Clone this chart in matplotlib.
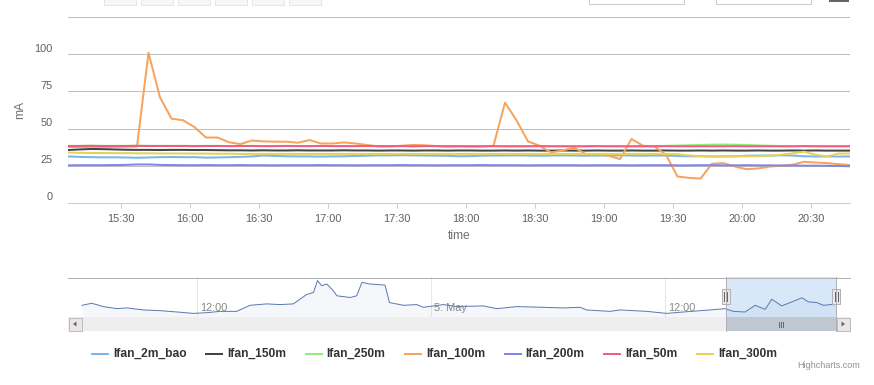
import numpy as np
import pandas as pd
import matplotlib
matplotlib.use("Agg")
import matplotlib.pyplot as plt
import matplotlib.dates as mdates
from matplotlib.patches import Rectangle, Polygon
from matplotlib.lines import Line2D
from matplotlib.transforms import ScaledTranslation

plt.rcParams['font.family'] = ['Liberation Sans', 'DejaVu Sans']

W, H = 874, 385
PT = 72.0 / 100  # one pixel in points at dpi 100

# ---- data (5 minute samples) ----
times = pd.date_range("2016-05-05 15:07", periods=69, freq="5min")

series_names = ["Ifan_2m_bao", "Ifan_150m", "Ifan_250m", "Ifan_100m",
                "Ifan_200m", "Ifan_50m", "Ifan_300m"]
series_colors = ["#7cb5ec", "#434348", "#90ed7d", "#f7a35c",
                 "#8085e9", "#f15c80", "#e4d354"]

ifan_2m_bao = [31.3, 31.0, 30.8, 30.7, 30.7, 30.6, 30.4, 30.6, 30.8, 30.9,
               30.8, 30.8, 30.5, 30.6, 30.8, 31.0, 31.3, 31.9, 31.6, 31.4,
               31.3, 31.3, 31.2, 31.3, 31.4, 31.6, 31.8, 32.0, 32.0, 32.1,
               32.0, 31.9, 31.8, 31.7, 31.4, 31.5, 31.8, 31.9, 31.9, 32.0,
               31.9, 31.8, 31.9, 32.0, 31.9, 31.8, 31.9, 31.9, 32.0, 31.9,
               31.8, 31.9, 31.9, 31.6, 31.4, 31.4, 31.3, 31.4, 31.4, 31.8,
               31.9, 31.9, 32.0, 31.9, 31.4, 31.3, 31.3, 31.2, 31.3]
ifan_150m = [35.6, 36.0, 36.3, 36.2, 36.0, 35.8, 35.7, 35.7, 35.6, 35.7,
             35.7, 35.6, 35.6, 35.5, 35.4, 35.4, 35.3, 35.4, 35.3, 35.3,
             35.4, 35.3, 35.3, 35.3, 35.4, 35.3, 35.3, 35.2, 35.3, 35.3,
             35.2, 35.3, 35.3, 35.2, 35.3, 35.3, 35.2, 35.2, 35.3, 35.2,
             35.3, 35.2, 35.2, 35.3, 35.2, 35.2, 35.3, 35.2, 35.2, 35.3,
             35.2, 35.2, 35.3, 35.2, 35.2, 35.3, 35.2, 35.3, 35.2, 35.2,
             35.3, 35.2, 35.2, 35.3, 35.2, 35.3, 35.2, 35.2, 35.2]
ifan_250m = [38.4, 38.4, 38.5, 38.4, 38.4, 38.4, 38.5, 38.4, 38.4, 38.4,
             38.4, 38.3, 38.4, 38.4, 38.3, 38.4, 38.4, 38.3, 38.3, 38.4,
             38.3, 38.3, 38.4, 38.3, 38.3, 38.3, 38.4, 38.3, 38.3, 38.3,
             38.2, 38.3, 38.3, 38.2, 38.3, 38.2, 38.2, 38.3, 38.2, 38.2,
             38.2, 38.3, 38.2, 38.2, 38.2, 38.2, 38.3, 38.2, 38.2, 38.2,
             38.2, 38.3, 38.4, 38.6, 38.8, 39.0, 39.2, 39.3, 39.2, 39.0,
             38.7, 38.5, 38.3, 38.2, 38.3, 38.2, 38.2, 38.2, 38.2]
ifan_100m = [37.6, 37.6, 37.7, 37.6, 37.7, 37.8, 37.9, 101.0, 71.0, 56.7,
             55.6, 51.0, 44.0, 44.0, 40.8, 39.6, 42.0, 41.4, 41.2, 41.2,
             40.5, 42.3, 40.0, 40.0, 40.7, 40.0, 39.0, 38.0, 38.0, 38.5,
             39.0, 38.8, 38.3, 38.0, 38.0, 38.0, 38.0, 38.5, 67.4, 55.6,
             41.4, 38.5, 34.0, 35.3, 37.2, 33.0, 32.7, 31.8, 29.5, 43.0,
             38.5, 38.0, 32.4, 17.8, 16.9, 16.4, 26.4, 26.8, 24.5, 22.7,
             23.2, 24.5, 25.0, 25.7, 27.7, 27.2, 26.8, 26.1, 25.5]
ifan_200m = [25.3, 25.4, 25.4, 25.4, 25.5, 25.6, 25.9, 25.9, 25.6, 25.5,
             25.4, 25.4, 25.5, 25.4, 25.4, 25.5, 25.4, 25.4, 25.3, 25.4,
             25.4, 25.4, 25.5, 25.4, 25.4, 25.3, 25.4, 25.4, 25.4, 25.5,
             25.4, 25.4, 25.3, 25.4, 25.4, 25.4, 25.5, 25.4, 25.4, 25.4,
             25.3, 25.4, 25.4, 25.4, 25.4, 25.3, 25.4, 25.4, 25.4, 25.3,
             25.4, 25.4, 25.4, 25.3, 25.3, 25.4, 25.4, 25.3, 25.3, 25.4,
             25.3, 25.3, 25.2, 25.2, 25.1, 25.1, 25.0, 24.9, 24.7]
ifan_50m = [38.3, 38.3, 38.4, 38.3, 38.3, 38.3, 38.4, 38.3, 38.3, 38.3,
            38.3, 38.2, 38.3, 38.3, 38.2, 38.3, 38.3, 38.2, 38.2, 38.3,
            38.2, 38.2, 38.3, 38.2, 38.2, 38.2, 38.3, 38.2, 38.2, 38.2,
            38.1, 38.2, 38.2, 38.1, 38.2, 38.1, 38.1, 38.2, 38.1, 38.1,
            38.1, 38.2, 38.1, 38.1, 38.1, 38.1, 38.2, 38.1, 38.1, 38.1,
            38.1, 38.1, 38.2, 38.1, 38.1, 38.1, 38.1, 38.1, 38.2, 38.1,
            38.1, 38.1, 38.1, 38.1, 38.2, 38.1, 38.1, 38.1, 38.1]
ifan_300m = [33.9, 33.7, 33.6, 33.6, 33.5, 33.5, 33.4, 33.4, 33.3, 33.3,
             33.3, 33.2, 33.2, 33.1, 33.1, 33.0, 33.0, 33.0, 33.0, 33.0,
             33.0, 33.0, 33.0, 33.0, 33.0, 33.0, 33.0, 33.0, 33.0, 33.0,
             33.0, 33.0, 33.0, 33.0, 33.0, 33.0, 33.0, 33.0, 33.0, 33.0,
             33.0, 33.0, 33.0, 33.0, 33.0, 33.0, 33.0, 33.0, 33.0, 33.0,
             33.0, 33.0, 33.0, 32.8, 32.0, 31.5, 31.2, 31.2, 31.3, 31.4,
             31.5, 31.8, 32.4, 33.4, 34.5, 32.5, 31.3, 33.2, 33.3]

series_values = [ifan_2m_bao, ifan_150m, ifan_250m, ifan_100m,
                 ifan_200m, ifan_50m, ifan_300m]

y_ticks = [0, 25, 50, 75, 100, 125]
y_tick_labels = ["0", "25", "50", "75", "100", ""]

# navigator: whole history of the first series
nav_times = pd.to_datetime([
    "2016-05-04 06:05", "2016-05-04 06:35", "2016-05-04 07:11", "2016-05-04 07:52",
    "2016-05-04 08:23", "2016-05-04 09:14", "2016-05-04 10:05", "2016-05-04 10:57",
    "2016-05-04 11:48", "2016-05-04 12:29", "2016-05-04 13:10", "2016-05-04 14:01",
    "2016-05-04 14:43", "2016-05-04 15:34", "2016-05-04 16:15", "2016-05-04 16:56",
    "2016-05-04 17:16", "2016-05-04 17:37", "2016-05-04 17:58", "2016-05-04 18:10",
    "2016-05-04 18:23", "2016-05-04 18:39", "2016-05-04 18:59", "2016-05-04 19:10",
    "2016-05-04 19:51", "2016-05-04 20:11", "2016-05-04 20:27", "2016-05-04 20:52",
    "2016-05-04 21:38", "2016-05-04 21:52", "2016-05-04 22:35", "2016-05-04 23:16",
    "2016-05-04 23:36", "2016-05-05 00:38", "2016-05-05 01:19", "2016-05-05 02:41",
    "2016-05-05 03:22", "2016-05-05 04:24", "2016-05-05 05:46", "2016-05-05 06:47",
    "2016-05-05 07:39", "2016-05-05 07:59", "2016-05-05 09:11", "2016-05-05 09:42",
    "2016-05-05 11:04", "2016-05-05 12:06", "2016-05-05 12:57", "2016-05-05 14:19",
    "2016-05-05 15:05", "2016-05-05 15:31", "2016-05-05 16:07", "2016-05-05 16:38",
    "2016-05-05 17:09", "2016-05-05 17:29", "2016-05-05 18:00", "2016-05-05 18:31",
    "2016-05-05 19:02", "2016-05-05 19:22", "2016-05-05 19:48", "2016-05-05 20:08",
    "2016-05-05 20:29", "2016-05-05 20:47"])
nav_values = [12.3, 14.3, 11.0, 9.0, 9.7, 7.7, 7.0, 5.7,
              4.3, 5.0, 6.3, 6.3, 12.3, 13.7, 13.0, 13.7,
              18.3, 23.0, 25.0, 36.7, 31.7, 33.3, 26.7, 21.7,
              20.0, 21.7, 35.0, 33.3, 32.3, 15.0, 12.3, 13.0,
              10.3, 13.0, 11.0, 11.7, 9.0, 11.0, 10.3, 9.7,
              10.3, 7.7, 6.3, 7.7, 6.3, 4.3, 5.7, 7.7,
              9.0, 6.3, 5.7, 12.3, 8.3, 18.3, 11.7, 15.7,
              19.7, 15.7, 15.0, 12.3, 13.0, 13.0]
nav_ticks = pd.to_datetime(["2016-05-04 12:00", "2016-05-05 00:00", "2016-05-05 12:00"])
nav_tick_labels = ["12:00", "5. May", "12:00"]


def fx(x):
    return x / W


def fy(y):
    return 1 - y / H


def fig_rect(fig, x0, y0, x1, y1, **kw):
    fig.patches.append(Rectangle((fx(x0), fy(y1)), fx(x1) - fx(x0), fy(y0) - fy(y1),
                                 transform=fig.transFigure, figure=fig, **kw))


def fig_line(fig, xs, ys, **kw):
    fig.lines.append(Line2D([fx(v) for v in xs], [fy(v) for v in ys],
                            transform=fig.transFigure, figure=fig, **kw))


fig = plt.figure(figsize=(W / 100, H / 100), dpi=100)
fig.patch.set_facecolor("white")

# ---- main chart ----
ax = fig.add_axes([fx(68), fy(203), fx(850) - fx(68), (203 - 17) / H])
for name, vals, col in zip(series_names, series_values, series_colors):
    ax.plot(times, vals, color=col, lw=2 * PT, solid_joinstyle="round", label=name)

ax.set_xlim(times[0], times[-1])
ax.set_ylim(0, 125)
ax.set_yticks(y_ticks)
ax.set_yticklabels(y_tick_labels)
ax.yaxis.grid(True, color="#c0c0c0", lw=1 * PT)
ax.set_axisbelow(True)
for s in ["top", "left", "right"]:
    ax.spines[s].set_visible(False)
ax.spines["bottom"].set_color("#c0d0e0")
ax.spines["bottom"].set_linewidth(1 * PT)
ax.tick_params(axis="y", length=0, pad=15 * PT, labelsize=11 * PT, labelcolor="#606060")
ax.tick_params(axis="x", length=5 * PT, width=1 * PT, color="#c0d0e0", pad=6 * PT,
               labelsize=11 * PT, labelcolor="#606060")
ax.xaxis.set_major_locator(mdates.MinuteLocator(byminute=[0, 30]))
ax.xaxis.set_major_formatter(mdates.DateFormatter("%H:%M"))
up = ScaledTranslation(0, 6.5 / 100, fig.dpi_scale_trans)
for lab in ax.get_yticklabels():
    lab.set_transform(lab.get_transform() + up)

fig.text(fx(20), fy(110), "mA", rotation=90, ha="center", va="center",
         fontsize=12 * PT, color="#707070")
fig.text(fx(459), fy(236), "time", ha="center", va="center",
         fontsize=12 * PT, color="#707070")

# ---- navigator ----
nav = fig.add_axes([fx(68), fy(317), fx(850) - fx(68), 40 / H])
t0, t1 = mdates.date2num(nav_times[0]), mdates.date2num(nav_times[-1])
margin = 14 / 754 * (t1 - t0)
nav.set_xlim(t0 - margin, t1 + margin)
vmin, vmax = min(nav_values), max(nav_values)
pad = 0.11 * (vmax - vmin)
nav.set_ylim(vmin - pad, vmax + pad)
nav.fill_between(nav_times, nav_values, vmin - pad, color="#4572a7", alpha=0.05, lw=0)
nav.plot(nav_times, nav_values, color="#5b7bb3", lw=1 * PT)
nav.set_xticks(nav_ticks)
nav.xaxis.grid(True, color="#e6e6e6", lw=1 * PT)
nav.set_axisbelow(True)
nav.tick_params(length=0, labelbottom=False, labelleft=False)
for s in nav.spines.values():
    s.set_visible(False)
off = ScaledTranslation(3 / 100, 4 / 100, fig.dpi_scale_trans)
for tk, lb in zip(nav_ticks, nav_tick_labels):
    nav.text(tk, 0, lb, transform=nav.get_xaxis_transform() + off,
             ha="left", va="bottom", fontsize=11 * PT, color="#888888")
sel0, sel1 = times[0], times[-1]
nav.axvspan(sel0, sel1, color=(128 / 255, 179 / 255, 236 / 255, 0.3), lw=0)

# ---- scrollbar ----
sb = fig.add_axes([fx(68), fy(331), fx(850) - fx(68), 14 / H], sharex=nav)
sb.set_ylim(0, 1)
sb.set_facecolor("#eeeeee")
for s in sb.spines.values():
    s.set_visible(False)
sb.tick_params(length=0, labelbottom=False, labelleft=False)
sb.axvspan(sel0, sel1, color="#bfc8d1", lw=0)

# pixel positions of the selection edges
fig.canvas.draw()
xa = nav.transData.transform((mdates.date2num(sel0), 0))[0]
xb = nav.transData.transform((mdates.date2num(sel1), 0))[0]

# outline
fig_line(fig, [68, 850], [277.5, 277.5], color="#b2b1b6", lw=1 * PT)
fig_line(fig, [xa, xa], [277, 331], color="#b2b1b6", lw=1 * PT)
fig_line(fig, [xb, xb], [277, 331], color="#b2b1b6", lw=1 * PT)

# scroll buttons
for bx, d in [(68, -1), (836, 1)]:
    fig_rect(fig, bx + 0.5, 317.5, bx + 14, 331, facecolor="#ebe7e8",
             edgecolor="#bbbbbb", lw=1 * PT)
    cx = bx + 7
    tri = [(fx(cx + 2 * d), fy(324)), (fx(cx - 1.5 * d), fy(321.5)), (fx(cx - 1.5 * d), fy(326.5))]
    fig.patches.append(Polygon(tri, closed=True, transform=fig.transFigure, figure=fig,
                               facecolor="#666666", lw=0))
# rifles on the thumb
cm = (xa + xb) / 2
for dx in (-2, 0, 2):
    fig_line(fig, [cm + dx, cm + dx], [321.5, 326.5], color="#666666", lw=1 * PT)

# handles
for hx in (xa, xb):
    fig_rect(fig, hx - 4, 289, hx + 4, 304, facecolor="#ebe7e8", edgecolor="#b2b1b6", lw=1 * PT)
    for dx in (-1.5, 1.5):
        fig_line(fig, [hx + dx, hx + dx], [292, 301], color="#666666", lw=1 * PT)

# ---- legend ----
renderer = fig.canvas.get_renderer()
lx = 92
for name, col in zip(series_names, series_colors):
    fig_line(fig, [lx, lx + 16], [354, 354], color=col, lw=2 * PT)
    t = fig.text(fx(lx + 21), fy(354), name, ha="left", va="center",
                 fontsize=12 * PT, fontweight="bold", color="#333333")
    wpx = t.get_window_extent(renderer).width
    lx = lx + 21 + wpx + 19.5

fig.text(fx(860), fy(365), "Highcharts.com", ha="right", va="center",
         fontsize=9 * PT, color="#909090")

# ---- cut-off controls along the top edge ----
for bx in [104, 141, 178, 215, 252, 289]:
    fig_rect(fig, bx, -10, bx + 32, 5, facecolor="#f7f7f7", edgecolor="#e7e7e7", lw=1 * PT)
for bx in [589, 716]:
    fig_rect(fig, bx, -10, bx + 95, 4, facecolor="white", edgecolor="#cccccc", lw=1 * PT)
fig_line(fig, [830, 848], [0.5, 0.5], color="#666666", lw=2 * PT)

fig.savefig("out.png", dpi=100)
